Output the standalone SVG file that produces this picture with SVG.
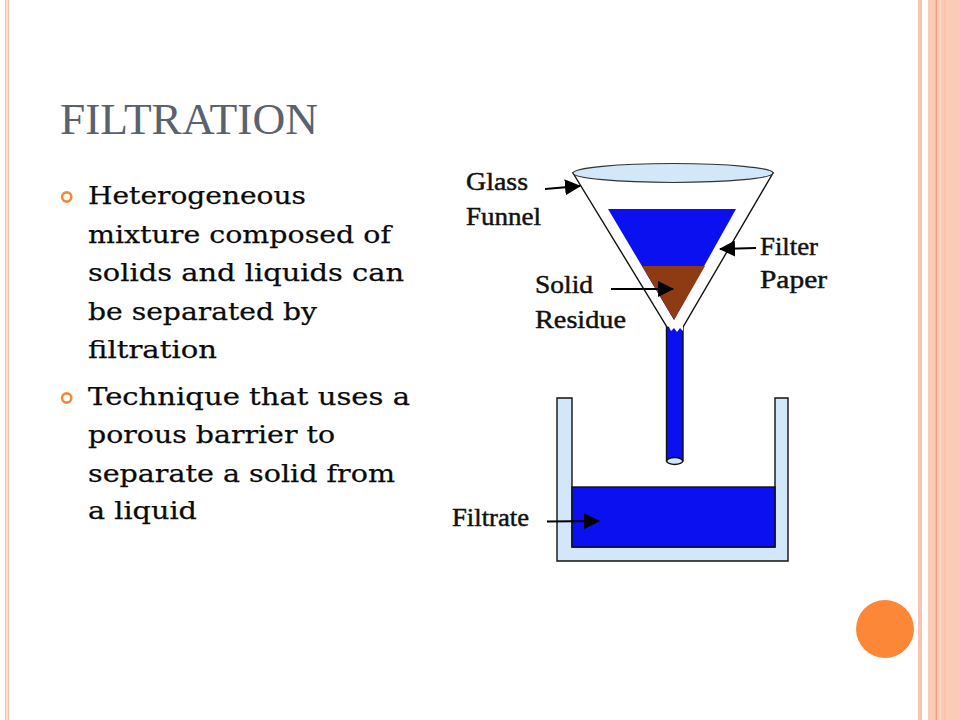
<svg xmlns="http://www.w3.org/2000/svg" width="960" height="720" viewBox="0 0 960 720">
  <defs>
    <marker id="ah" viewBox="0 0 16 16" refX="15" refY="8" markerWidth="16" markerHeight="16" markerUnits="userSpaceOnUse" orient="auto">
      <path d="M0,0 L16,8 L0,16 Z" fill="#000"/>
    </marker>
    <style>
      .title { font-family: "Liberation Serif", "DejaVu Serif", serif; font-size: 44px; fill: #59626F; }
      .body { font-family: "DejaVu Serif", "Liberation Serif", serif; font-size: 25px; fill: #0A0A0A; stroke: #0A0A0A; stroke-width: 0.25; }
      .lbl { font-family: "Liberation Serif", "Times New Roman", serif; font-size: 25px; fill: #111; stroke: #111; stroke-width: 0.45; }
      .bullet { fill: none; stroke: #F28A3E; stroke-width: 2.6; }
      .arrow { stroke: #000; stroke-width: 2; fill: none; marker-end: url(#ah); }
      .outline { stroke: #111; stroke-width: 1.4; }
      .glass { fill: #D2E7F9; }
      .liquid { fill: #0A10F0; }
    </style>
  </defs>

  <rect width="960" height="720" fill="#FFFFFF"/>

  <!-- slide borders -->
  <g id="border-left">
    <rect x="5" y="0" width="1.6" height="720" fill="#F8C3AE"/>
    <rect x="6.6" y="0" width="1" height="720" fill="#FCE2D8"/>
    <rect x="7.6" y="0" width="1.6" height="720" fill="#F8C3AE"/>
  </g>
  <g id="border-right">
    <rect x="918" y="0" width="4" height="720" fill="#F9C4B0"/>
    <rect x="928" y="0" width="32" height="720" fill="#FCCBB8"/>
    <rect x="935.6" y="0" width="1.4" height="720" fill="#EF9E7C"/>
    <rect x="939" y="0" width="2" height="720" fill="#FBD4C4"/>
    <rect x="944" y="0" width="1.5" height="720" fill="#FAC0AA"/>
  </g>
  <circle id="corner-dot" cx="885" cy="629" r="29" fill="#FC8737"/>

  <!-- title -->
  <g id="title">
    <text class="title" x="60" y="134" textLength="258" lengthAdjust="spacingAndGlyphs">FILTRATION</text>
  </g>

  <!-- bullets -->
  <g id="bullet-1">
    <circle class="bullet" cx="66.7" cy="197" r="4.6"/>
    <text class="body" x="88" y="204" textLength="218" lengthAdjust="spacingAndGlyphs">Heterogeneous</text>
    <text class="body" x="88" y="243" textLength="303" lengthAdjust="spacingAndGlyphs">mixture composed of</text>
    <text class="body" x="88" y="281" textLength="316" lengthAdjust="spacingAndGlyphs">solids and liquids can</text>
    <text class="body" x="88" y="320" textLength="229" lengthAdjust="spacingAndGlyphs">be separated by</text>
    <text class="body" x="88" y="358" textLength="129" lengthAdjust="spacingAndGlyphs">filtration</text>
  </g>
  <g id="bullet-2">
    <circle class="bullet" cx="66.7" cy="398" r="4.6"/>
    <text class="body" x="88" y="405" textLength="322" lengthAdjust="spacingAndGlyphs">Technique that uses a</text>
    <text class="body" x="88" y="443" textLength="247" lengthAdjust="spacingAndGlyphs">porous barrier to</text>
    <text class="body" x="88" y="482" textLength="307" lengthAdjust="spacingAndGlyphs">separate a solid from</text>
    <text class="body" x="88" y="519" textLength="109" lengthAdjust="spacingAndGlyphs">a liquid</text>
  </g>

  <!-- beaker -->
  <g id="beaker">
    <path class="glass outline" d="M557,398 L557,561 L788,561 L788,398 L775,398 L775,547 L572,547 L572,398 Z"/>
    <rect class="liquid outline" x="572" y="487" width="203" height="60"/>
  </g>

  <!-- funnel -->
  <g id="funnel">
    <rect class="liquid outline" x="666.5" y="325" width="16.5" height="136"/>
    <ellipse class="glass outline" cx="674.7" cy="461" rx="8" ry="3.5"/>
    <path d="M573,173 L773,173 L683,327 L667,327 Z" fill="#FFFFFF" class="outline"/>
    <path d="M669,327 L671,331 L674,328 L677,332 L680,328 L683,331 L683,326 L667,326 Z" fill="#FFFFFF"/>
    <polygon class="liquid" points="608,209 736,209 674,320"/>
    <polygon points="642,266 705,266 674,320" fill="#8E3A12"/>
    <ellipse class="glass" cx="673" cy="173" rx="100" ry="9.5" stroke="#333" stroke-width="1.2"/>
  </g>

  <!-- labels -->
  <g id="label-glass-funnel">
    <text class="lbl" x="466" y="190" textLength="62" lengthAdjust="spacingAndGlyphs">Glass</text>
    <text class="lbl" x="466" y="225" textLength="75" lengthAdjust="spacingAndGlyphs">Funnel</text>
  </g>
  <g id="label-filter-paper">
    <text class="lbl" x="760" y="255" textLength="58" lengthAdjust="spacingAndGlyphs">Filter</text>
    <text class="lbl" x="760" y="288" textLength="67" lengthAdjust="spacingAndGlyphs">Paper</text>
  </g>
  <g id="label-solid-residue">
    <text class="lbl" x="535" y="293" textLength="58" lengthAdjust="spacingAndGlyphs">Solid</text>
    <text class="lbl" x="535" y="328" textLength="91" lengthAdjust="spacingAndGlyphs">Residue</text>
  </g>
  <g id="label-filtrate">
    <text class="lbl" x="452" y="526" textLength="77" lengthAdjust="spacingAndGlyphs">Filtrate</text>
  </g>

  <!-- connectors -->
  <g id="connectors">
    <line class="arrow" x1="545" y1="189" x2="580" y2="186"/>
    <line class="arrow" x1="756" y1="248" x2="720" y2="249"/>
    <line class="arrow" x1="611" y1="289" x2="673" y2="289"/>
    <line class="arrow" x1="547" y1="521.5" x2="599" y2="521"/>
  </g>
</svg>
